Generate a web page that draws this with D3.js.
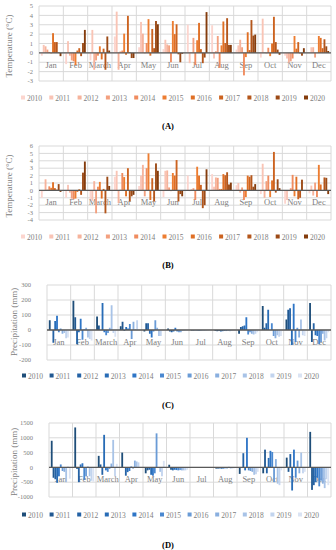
<!DOCTYPE html>
<html>
<head>
<meta charset="utf-8">
<script src="https://cdnjs.cloudflare.com/ajax/libs/d3/7.8.5/d3.min.js"></script>
<style>
body { margin: 0; background: #fff; }
svg text { font-family: "Liberation Serif", "DejaVu Serif", serif; }
</style>
</head>
<body>
<div id="chart"></div>
<script>
// data
var years = ["2010","2011","2012","2013","2014","2015","2016","2017","2018","2019","2020"];
var months = ["Jan","Feb","March","Apr","May","Jun","Jul","Aug","Sep","Oct","Nov","Dec"];

// temperature anomalies (A), one row per month, one value per year
var tempA = [
    [-0.3, 0.85, 0.7, 0.35, 0.1, -0.05, 2.1, 1.15, 1.15, 0.05, -0.35],
    [-1.2, 1.25, -0.3, -0.8, -0.9, -1.3, 0.25, 0.5, -0.35, 1.05, 2.45],
    [-0.8, 2.45, -1.8, -0.8, -0.3, 0.7, -0.7, 0.45, -1.8, 1.75, 0.25],
    [1.75, 4.4, -1.8, 0.15, 0.25, 2.05, -0.2, 3.95, 0.05, -0.55, -0.55],
    [0.6, 3.3, 2.05, -0.05, 1.05, 3.6, -0.3, 2.55, 0.5, 3.4, 3.05],
    [0.4, 1.4, 0.9, 0.8, -1.0, 3.4, 2.0, 3.05, -0.15, -1.0, -0.1],
    [3.0, -1.1, 0.05, 1.6, -1.3, 1.35, 3.2, 0.4, -1.1, -0.5, 4.35],
    [2.95, -0.6, 0.2, 1.8, -1.6, 0.8, 3.35, 1.05, 3.7, 0.85, 0.85],
    [0.35, 0.8, 1.4, 0.6, -2.4, -0.45, 2.2, 0.3, 3.5, 1.85, 1.95],
    [-0.5, 3.65, 0.05, -0.05, 0.55, -0.35, 1.0, 3.85, 1.15, 0.35, -0.2],
    [-0.3, -0.6, -1.05, -0.9, -0.6, 1.8, 0.45, 1.15, -0.05, -0.3, 0.5],
    [0.05, 0.6, 0.6, -0.5, 0.0, 1.8, 1.6, 0.5, 1.45, 0.7, 0.2]
];

// temperature anomalies (B)
var tempB = [
    [-1.0, -0.1, 1.5, 0.1, 0.55, 0.35, 1.1, 0.3, 0.1, 0.85, -0.2],
    [-1.0, 0.75, -0.3, -1.1, -1.2, -1.1, -0.2, 0.15, -0.6, 2.4, 3.9],
    [-1.2, -1.4, 1.25, -3.1, 0.5, 1.15, -1.1, 0.2, -3.1, 1.85, 0.6],
    [1.85, 2.65, -1.7, 0.1, 2.35, 1.8, -0.8, 3.0, -1.5, -0.8, -0.6],
    [0.6, 2.0, 3.45, -0.8, 3.0, 5.0, -1.3, 1.65, -1.5, 3.65, 2.65],
    [-0.9, 2.65, 2.7, 0.4, -0.1, 2.35, 2.0, 4.1, -1.5, -0.5, -0.8],
    [2.0, -0.1, 0.15, 0.3, -1.3, 3.2, 2.0, 0.75, -2.4, -2.0, 2.85],
    [2.2, 0.5, 1.75, 1.7, 0.2, 0.2, 2.2, 2.05, 2.45, 0.8, 1.05],
    [0.7, 1.0, -0.3, 0.4, -1.3, -0.9, 2.0, 1.85, 2.05, 0.5, 0.85],
    [-0.5, 3.6, -1.0, 1.25, 2.0, -0.9, 1.35, 5.2, -0.3, 1.5, 0.3],
    [-1.8, -1.3, -0.1, 0.3, 2.1, -0.8, 1.85, -1.2, -1.0, 1.45, 0.0],
    [-0.4, 0.65, -0.7, 1.05, -0.9, 3.45, 0.8, 0.0, 1.75, 1.7, -0.5]
];

// precipitation anomalies (C)
var precipC = [
    [65, 0, -85, 60, 95, -15, 10, -25, -20, -55, -50],
    [195, 85, -95, -15, 75, -65, 5, 15, -50, -60, -70],
    [90, 30, 0, 180, -15, -35, -20, 15, 165, -20, -45],
    [25, 55, -5, 20, 10, 40, -60, 55, 5, 65, 0],
    [-10, 45, 45, -25, -50, -10, 65, 15, -40, -40, 0],
    [10, -10, -15, -10, 15, -10, -15, -15, -5, -5, -5],
    [-3, -3, -2, -3, -4, -3, -2, -3, -3, -2, -2],
    [-5, -8, -6, -10, -8, -6, -7, -5, -8, -6, -5],
    [-25, 20, 25, 30, 85, -30, -15, -25, -30, -25, -15],
    [160, 15, 45, 135, 0, 45, -40, -55, -35, -45, -40],
    [70, 135, 145, -100, 175, -80, 15, -50, 70, -35, -40],
    [180, -80, 45, -35, -40, -95, -80, -25, -70, -55, -15]
];

// precipitation anomalies (D)
var precipD = [
    [900, -350, -400, -520, -300, 100, -120, -150, -500, 30, -380],
    [1350, -50, -500, 100, 140, -420, -300, 30, -300, -450, -480],
    [390, 100, -250, 1100, -100, -150, -50, 130, 930, -300, 120],
    [500, -20, -280, -160, -120, 30, -40, 230, 200, 170, 0],
    [-200, -100, -80, -250, -280, -200, 1150, 0, -150, -300, 220],
    [90, -80, -100, -80, -90, -100, -90, -100, -100, -100, -80],
    [-10, -10, -8, -12, -10, -10, -8, -10, -10, -8, -10],
    [-40, -40, -35, -45, -40, -30, -35, 20, -40, -35, -30],
    [-220, -10, 480, -100, 1000, -100, -120, -150, -250, -230, -150],
    [-200, 600, -200, 320, 560, 520, -500, 280, -550, -600, -100],
    [330, -150, 450, -780, 600, -350, 230, -200, 500, -200, -150],
    [1200, -760, -600, -500, -350, -640, -450, -550, -700, -400, -600]
];

var ticksA = [-3, -2, -1, 0, 1, 2, 3, 4, 5];
var ticksB = [-4, -3, -2, -1, 0, 1, 2, 3, 4, 5, 6];
var ticksC = [-200, -100, 0, 100, 200, 300];
var ticksD = [-1000, -500, 0, 500, 1000, 1500];

// colours
var orangeCols = ["#fcd5ce","#f9c4b5","#f6b39c","#f3a07f","#f08c5f","#ed7d31","#e06f24","#cc6320","#b4561b","#9c4a16","#843c0c"];
var blueCols = ["#1f4e79","#215891","#2462a5","#286cb6","#2e75c6","#4a88d0","#6a9bd6","#89afdf","#a8c3e7","#c2d4ee","#dae3f3"];

var svg = d3.select("#chart").append("svg")
    .attr("width", 336)
    .attr("height", 550);

function drawPanel(p) {
    var g = svg.append("g");

    var x0 = d3.scaleBand().domain(months).range([p.left, p.right]).padding(0);
    var x1 = d3.scaleBand().domain(years).range([0, x0.bandwidth()])
        .paddingInner(0).paddingOuter(1.0);
    var y = d3.scaleLinear().domain([p.ticks[0], p.ticks[p.ticks.length - 1]]).range([p.bottom, p.top]);

    // horizontal grid
    g.selectAll(".hgrid").data(p.ticks).enter().append("line")
        .attr("x1", p.left).attr("x2", p.right)
        .attr("y1", function(d) { return y(d); })
        .attr("y2", function(d) { return y(d); })
        .style("stroke", "#d9d9d9").style("stroke-width", 1);

    // vertical grid at month boundaries
    var bounds = months.map(function(m) { return x0(m); }).concat([p.right]);
    g.selectAll(".vgrid").data(bounds).enter().append("line")
        .attr("x1", function(d) { return d; }).attr("x2", function(d) { return d; })
        .attr("y1", p.top).attr("y2", p.bottom)
        .style("stroke", "#d9d9d9").style("stroke-width", 1);

    // tick labels
    g.selectAll(".tick").data(p.ticks).enter().append("text")
        .attr("x", p.tickX)
        .attr("y", function(d) { return y(d) + 2.2; })
        .attr("text-anchor", "end")
        .style("font-size", "6.5px")
        .style("fill", "#808080")
        .text(function(d) { return d; });

    // axis title
    g.append("text")
        .attr("transform", "translate(" + p.titleX + "," + p.titleY + ") rotate(-90)")
        .attr("text-anchor", "middle")
        .style("font-size", "9px")
        .style("fill", "#808080")
        .text(p.title);

    // month labels
    g.selectAll(".mlab").data(months).enter().append("text")
        .attr("x", function(d) { return x0(d) + x0.bandwidth() / 2; })
        .attr("y", y(0) + 15)
        .attr("text-anchor", "middle")
        .style("font-size", "8.5px")
        .style("fill", "#808080")
        .text(function(d) { return d; });

    // bars
    var groups = g.selectAll(".month").data(p.data).enter().append("g")
        .attr("transform", function(d, i) { return "translate(" + x0(months[i]) + ",0)"; });
    groups.selectAll("rect").data(function(d) { return d; }).enter().append("rect")
        .attr("x", function(d, j) { return x1(years[j]); })
        .attr("width", x1.bandwidth())
        .attr("y", function(d) { return y(Math.max(0, d)); })
        .attr("height", function(d) { return Math.abs(y(d) - y(0)); })
        .style("fill", function(d, j) { return p.colors[j]; });

    // zero axis line
    g.append("line")
        .attr("x1", p.left).attr("x2", p.right)
        .attr("y1", y(0)).attr("y2", y(0))
        .style("stroke", "#595959").style("stroke-width", 1.3);

    // legend
    var leg = g.selectAll(".leg").data(years).enter().append("g")
        .attr("transform", function(d, i) { return "translate(" + (p.legX + i * p.legStep) + "," + p.legY + ")"; });
    leg.append("rect")
        .attr("x", 0).attr("y", -3.5).attr("width", 4).attr("height", 4)
        .style("fill", function(d, i) { return p.colors[i]; });
    leg.append("text")
        .attr("x", 6).attr("y", 2)
        .style("font-size", "7.5px")
        .style("fill", "#808080")
        .text(function(d) { return d; });

    // panel letter
    g.append("text")
        .attr("x", 168).attr("y", p.letterY + 3)
        .attr("text-anchor", "middle")
        .style("font-size", "8.5px")
        .style("font-weight", "bold")
        .style("fill", "#000")
        .text(p.letter);
}

drawPanel({ data: tempA, ticks: ticksA, colors: orangeCols, left: 39, right: 331, top: 6, bottom: 81,
    tickX: 33, title: "Temperature (\u00B0C)", titleX: 12, titleY: 46,
    legX: 21, legStep: 28.3, legY: 99, letter: "(A)", letterY: 126 });

drawPanel({ data: tempB, ticks: ticksB, colors: orangeCols, left: 39, right: 331, top: 146, bottom: 220,
    tickX: 33, title: "Temperature (\u00B0C)", titleX: 12, titleY: 186,
    legX: 21, legStep: 28.3, legY: 238, letter: "(B)", letterY: 265 });

drawPanel({ data: precipC, ticks: ticksC, colors: blueCols, left: 47, right: 331, top: 285, bottom: 360,
    tickX: 31, title: "Precipitation (mm)", titleX: 17, titleY: 322,
    legX: 22, legStep: 27.6, legY: 377, letter: "(C)", letterY: 405 });

drawPanel({ data: precipD, ticks: ticksD, colors: blueCols, left: 49, right: 331, top: 423, bottom: 497,
    tickX: 33, title: "Precipitation (mm)", titleX: 17, titleY: 462,
    legX: 22, legStep: 27.6, legY: 516, letter: "(D)", letterY: 545 });
</script>
</body>
</html>
